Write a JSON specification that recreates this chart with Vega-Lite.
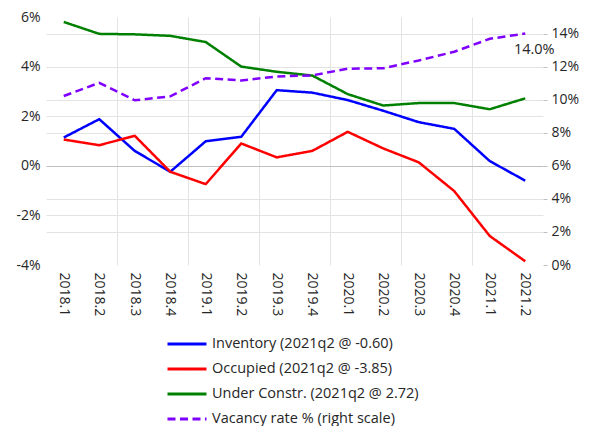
{
  "$schema": "https://vega.github.io/schema/vega-lite/v6.json",
  "width": 497,
  "height": 248,
  "autosize": {"type": "none"},
  "padding": {"left": 46, "top": 17, "right": 50, "bottom": 161},
  "background": "white",
  "config": {
    "view": {"stroke": null},
    "font": "Open Sans",
    "axis": {"labelFont": "Open Sans", "labelFontSize": 14, "labelColor": "#262626", "domain": false},
    "legend": {"rowPadding": 2}
  },
  "datasets": {
    "main": [
      {"q": "2018.1", "series": "Inventory (2021q2 @ -0.60)", "value": 1.14},
      {"q": "2018.2", "series": "Inventory (2021q2 @ -0.60)", "value": 1.88},
      {"q": "2018.3", "series": "Inventory (2021q2 @ -0.60)", "value": 0.60},
      {"q": "2018.4", "series": "Inventory (2021q2 @ -0.60)", "value": -0.24},
      {"q": "2019.1", "series": "Inventory (2021q2 @ -0.60)", "value": 0.99},
      {"q": "2019.2", "series": "Inventory (2021q2 @ -0.60)", "value": 1.17},
      {"q": "2019.3", "series": "Inventory (2021q2 @ -0.60)", "value": 3.05},
      {"q": "2019.4", "series": "Inventory (2021q2 @ -0.60)", "value": 2.95},
      {"q": "2020.1", "series": "Inventory (2021q2 @ -0.60)", "value": 2.65},
      {"q": "2020.2", "series": "Inventory (2021q2 @ -0.60)", "value": 2.22},
      {"q": "2020.3", "series": "Inventory (2021q2 @ -0.60)", "value": 1.76},
      {"q": "2020.4", "series": "Inventory (2021q2 @ -0.60)", "value": 1.49},
      {"q": "2021.1", "series": "Inventory (2021q2 @ -0.60)", "value": 0.19},
      {"q": "2021.2", "series": "Inventory (2021q2 @ -0.60)", "value": -0.60},
      {"q": "2018.1", "series": "Occupied (2021q2 @ -3.85)", "value": 1.06},
      {"q": "2018.2", "series": "Occupied (2021q2 @ -3.85)", "value": 0.83},
      {"q": "2018.3", "series": "Occupied (2021q2 @ -3.85)", "value": 1.21},
      {"q": "2018.4", "series": "Occupied (2021q2 @ -3.85)", "value": -0.24},
      {"q": "2019.1", "series": "Occupied (2021q2 @ -3.85)", "value": -0.74},
      {"q": "2019.2", "series": "Occupied (2021q2 @ -3.85)", "value": 0.90},
      {"q": "2019.3", "series": "Occupied (2021q2 @ -3.85)", "value": 0.34},
      {"q": "2019.4", "series": "Occupied (2021q2 @ -3.85)", "value": 0.60},
      {"q": "2020.1", "series": "Occupied (2021q2 @ -3.85)", "value": 1.37},
      {"q": "2020.2", "series": "Occupied (2021q2 @ -3.85)", "value": 0.70},
      {"q": "2020.3", "series": "Occupied (2021q2 @ -3.85)", "value": 0.14},
      {"q": "2020.4", "series": "Occupied (2021q2 @ -3.85)", "value": -1.02},
      {"q": "2021.1", "series": "Occupied (2021q2 @ -3.85)", "value": -2.83},
      {"q": "2021.2", "series": "Occupied (2021q2 @ -3.85)", "value": -3.85},
      {"q": "2018.1", "series": "Under Constr. (2021q2 @ 2.72)", "value": 5.80},
      {"q": "2018.2", "series": "Under Constr. (2021q2 @ 2.72)", "value": 5.32},
      {"q": "2018.3", "series": "Under Constr. (2021q2 @ 2.72)", "value": 5.30},
      {"q": "2018.4", "series": "Under Constr. (2021q2 @ 2.72)", "value": 5.24},
      {"q": "2019.1", "series": "Under Constr. (2021q2 @ 2.72)", "value": 4.99},
      {"q": "2019.2", "series": "Under Constr. (2021q2 @ 2.72)", "value": 4.00},
      {"q": "2019.3", "series": "Under Constr. (2021q2 @ 2.72)", "value": 3.79},
      {"q": "2019.4", "series": "Under Constr. (2021q2 @ 2.72)", "value": 3.64},
      {"q": "2020.1", "series": "Under Constr. (2021q2 @ 2.72)", "value": 2.89},
      {"q": "2020.2", "series": "Under Constr. (2021q2 @ 2.72)", "value": 2.43},
      {"q": "2020.3", "series": "Under Constr. (2021q2 @ 2.72)", "value": 2.53},
      {"q": "2020.4", "series": "Under Constr. (2021q2 @ 2.72)", "value": 2.53},
      {"q": "2021.1", "series": "Under Constr. (2021q2 @ 2.72)", "value": 2.28},
      {"q": "2021.2", "series": "Under Constr. (2021q2 @ 2.72)", "value": 2.72}
    ],
    "vac": [
      {"q": "2018.1", "vacancy": 10.22},
      {"q": "2018.2", "vacancy": 11.02},
      {"q": "2018.3", "vacancy": 9.96},
      {"q": "2018.4", "vacancy": 10.20},
      {"q": "2019.1", "vacancy": 11.30},
      {"q": "2019.2", "vacancy": 11.16},
      {"q": "2019.3", "vacancy": 11.40},
      {"q": "2019.4", "vacancy": 11.47},
      {"q": "2020.1", "vacancy": 11.87},
      {"q": "2020.2", "vacancy": 11.90},
      {"q": "2020.3", "vacancy": 12.37},
      {"q": "2020.4", "vacancy": 12.90},
      {"q": "2021.1", "vacancy": 13.68},
      {"q": "2021.2", "vacancy": 14.0}
    ],
    "note": [
      {"q": "2021.2", "vacancy": 14.0, "label": "14.0%"}
    ]
  },
  "resolve": {"scale": {"y": "independent"}, "axis": {"x": "independent"}},
  "layer": [
    {
      "data": {"name": "main"},
      "mark": {"type": "line", "strokeWidth": 2.5},
      "encoding": {
        "x": {
          "field": "q", "type": "ordinal", "sort": null,
          "scale": {"type": "band", "paddingInner": 0, "paddingOuter": 0,
            "domain": ["2018.1","2018.2","2018.3","2018.4","2019.1","2019.2","2019.3","2019.4","2020.1","2020.2","2020.3","2020.4","2021.1","2021.2"]},
          "axis": {"title": null, "labelAngle": 90, "ticks": false, "tickSize": 0, "labelPadding": 7, "grid": false, "domain": false, "orient": "bottom"}
        },
        "y": {
          "field": "value", "type": "quantitative",
          "scale": {"domain": [-4, 6], "nice": false, "zero": false},
          "axis": {
            "title": null, "values": [-4, -2, 0, 2, 4, 6], "labelExpr": "datum.value + '%'",
            "ticks": false, "tickSize": 0, "labelPadding": 6, "labelFlush": false,
            "grid": true,
            "gridColor": {"condition": {"test": "datum.value == 0", "value": "#bfbfbf"}, "value": "#e3e3e3"},
            "gridOpacity": {"condition": {"test": "datum.value == -4 || datum.value == 6", "value": 0}, "value": 1}
          }
        },
        "color": {
          "field": "series", "type": "nominal",
          "scale": {"domain": ["Inventory (2021q2 @ -0.60)", "Occupied (2021q2 @ -3.85)", "Under Constr. (2021q2 @ 2.72)", "Vacancy rate % (right scale)"],
                    "range": ["#0000ff", "#ff0000", "#008000", "#8000ff"]},
          "legend": {"title": null, "orient": "none", "legendX": 125, "legendY": 311, "direction": "vertical",
                     "symbolType": "M-1.345,0H1.345", "symbolSize": 841, "symbolStrokeWidth": 3,
                     "labelFont": "Open Sans", "labelFontSize": 14.5, "labelColor": "#262626", "labelOffset": 9, "labelLimit": 400}
        },
        "strokeDash": {
          "field": "series", "type": "nominal",
          "scale": {"domain": ["Inventory (2021q2 @ -0.60)", "Occupied (2021q2 @ -3.85)", "Under Constr. (2021q2 @ 2.72)", "Vacancy rate % (right scale)"],
                    "range": [[1, 0], [1, 0], [1, 0], [8, 4.5]]},
          "legend": {"title": null, "orient": "none", "legendX": 125, "legendY": 311, "direction": "vertical",
                     "symbolType": "M-1.345,0H1.345", "symbolSize": 841, "symbolStrokeWidth": 3,
                     "labelFont": "Open Sans", "labelFontSize": 14.5, "labelColor": "#262626", "labelOffset": 9, "labelLimit": 400}
        }
      }
    },
    {
      "layer": [
        {
          "data": {"name": "vac"},
          "mark": {"type": "line", "strokeWidth": 2.5, "strokeCap": "butt"},
          "encoding": {
            "x": {
              "field": "q", "type": "ordinal", "sort": null,
              "scale": {"type": "band", "paddingInner": 0, "paddingOuter": 0,
                "domain": ["2018.1","2018.2","2018.3","2018.4","2019.1","2019.2","2019.3","2019.4","2020.1","2020.2","2020.3","2020.4","2021.1","2021.2"]},
              "axis": {"title": null, "orient": "top", "labels": false, "ticks": false, "tickSize": 0, "domain": false,
                       "grid": true, "gridColor": "#e3e3e3", "bandPosition": 0,
                       "values": ["2018.3", "2019.1", "2019.3", "2020.1", "2020.3", "2021.1"]}
            },
            "y": {
              "field": "vacancy", "type": "quantitative",
              "scale": {"domain": [0, 15], "nice": false, "zero": false},
              "axis": {
                "title": null, "orient": "right", "values": [0, 2, 4, 6, 8, 10, 12, 14], "labelExpr": "datum.value + '%'",
                "ticks": true, "tickSize": 4, "tickColor": "#bfbfbf", "labelPadding": 4, "labelFlush": false,
                "grid": true, "gridColor": "#e3e3e3",
                "gridOpacity": {"condition": {"test": "datum.value == 0 || datum.value == 6", "value": 0}, "value": 1}
              }
            },
            "color": {"datum": "Vacancy rate % (right scale)"},
            "strokeDash": {"datum": "Vacancy rate % (right scale)"}
          }
        },
        {
          "data": {"name": "note"},
          "mark": {"type": "text", "dx": 9, "dy": 16, "fontSize": 14.5, "font": "Open Sans", "color": "#262626", "align": "center", "baseline": "middle"},
          "encoding": {
            "x": {
              "field": "q", "type": "ordinal", "sort": null,
              "scale": {"type": "band", "paddingInner": 0, "paddingOuter": 0,
                "domain": ["2018.1","2018.2","2018.3","2018.4","2019.1","2019.2","2019.3","2019.4","2020.1","2020.2","2020.3","2020.4","2021.1","2021.2"]},
              "axis": {"title": null, "orient": "top", "labels": false, "ticks": false, "tickSize": 0, "domain": false,
                       "grid": true, "gridColor": "#e3e3e3", "bandPosition": 0,
                       "values": ["2018.3", "2019.1", "2019.3", "2020.1", "2020.3", "2021.1"]}
            },
            "y": {
              "field": "vacancy", "type": "quantitative",
              "scale": {"domain": [0, 15], "nice": false, "zero": false},
              "axis": {
                "title": null, "orient": "right", "values": [0, 2, 4, 6, 8, 10, 12, 14], "labelExpr": "datum.value + '%'",
                "ticks": true, "tickSize": 4, "tickColor": "#bfbfbf", "labelPadding": 4, "labelFlush": false,
                "grid": true, "gridColor": "#e3e3e3",
                "gridOpacity": {"condition": {"test": "datum.value == 0 || datum.value == 6", "value": 0}, "value": 1}
              }
            },
            "text": {"field": "label", "type": "nominal"}
          }
        }
      ]
    }
  ]
}
